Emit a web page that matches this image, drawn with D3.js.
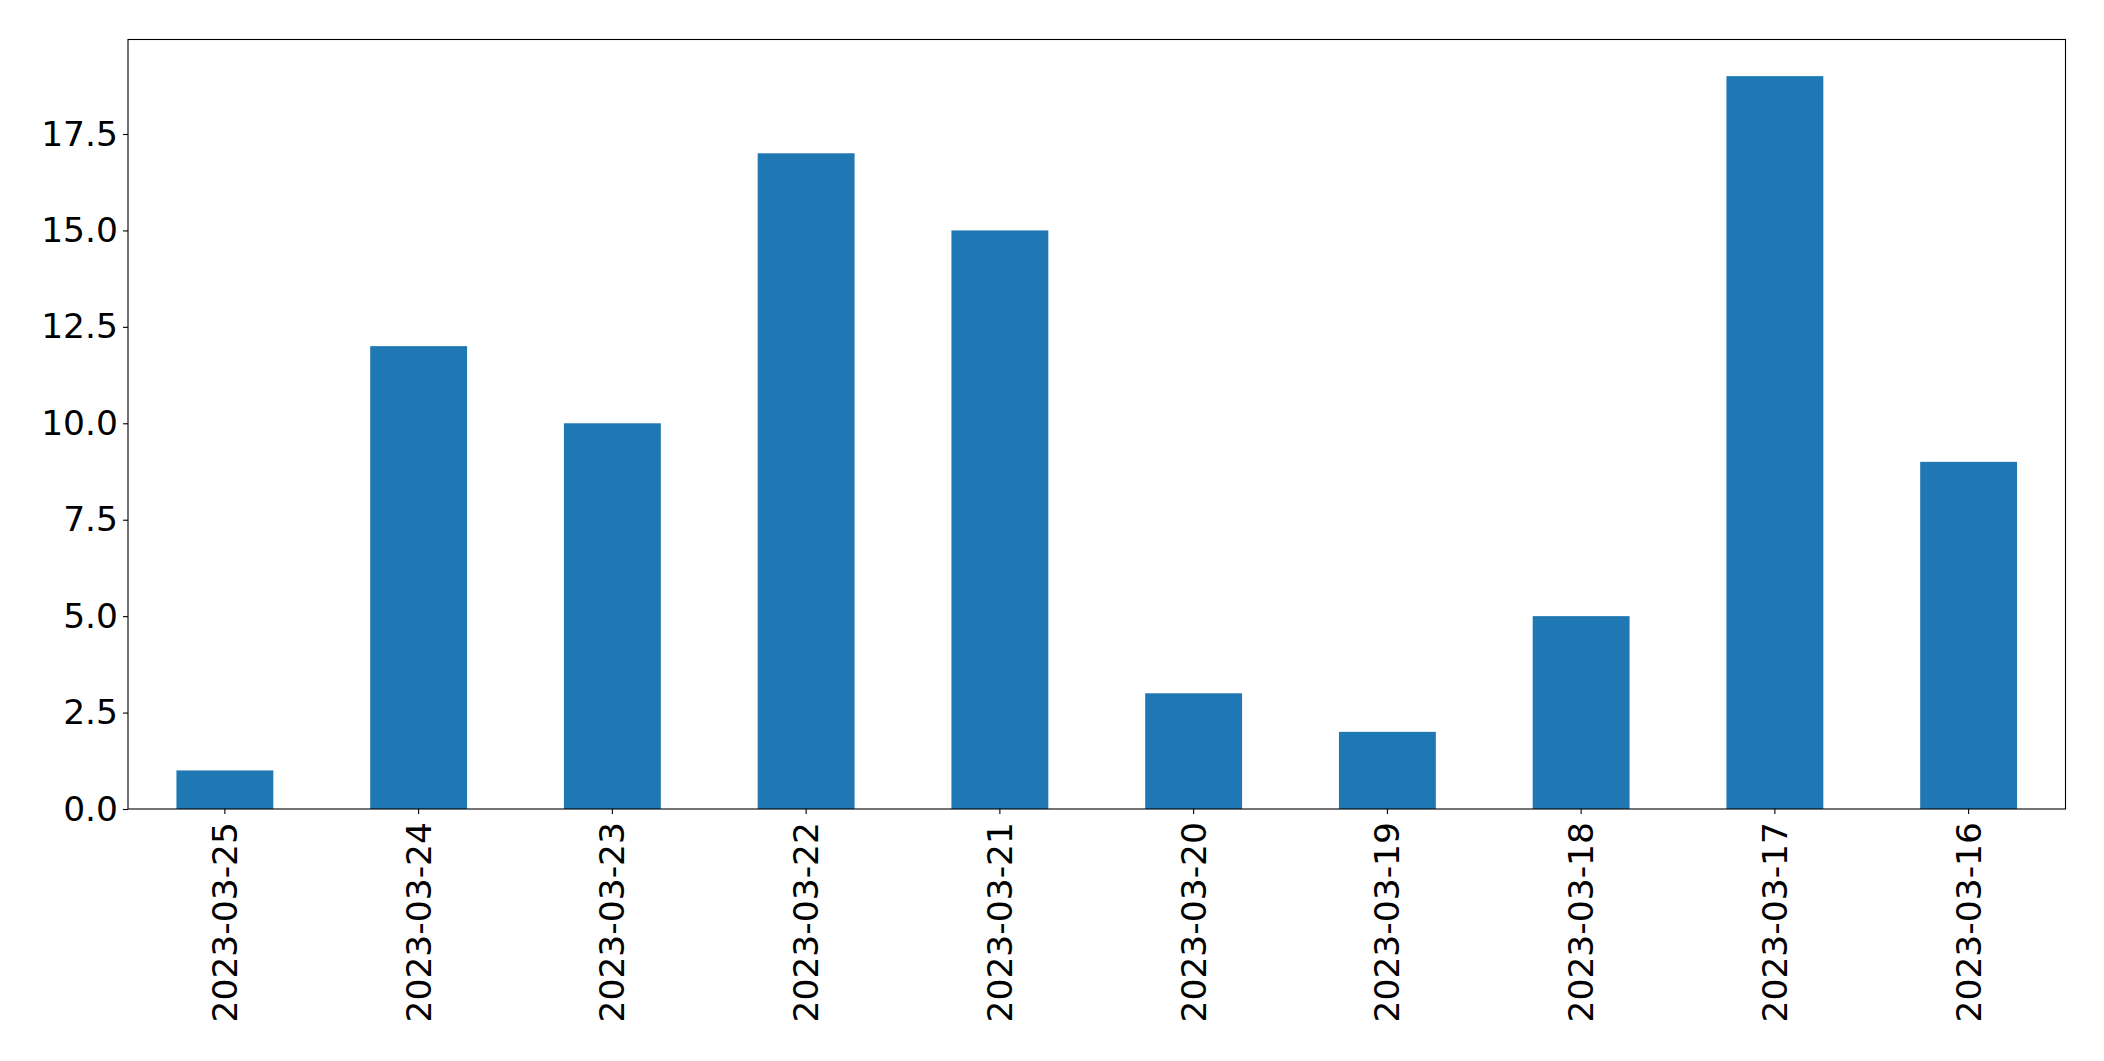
<!DOCTYPE html>
<html>
<head>
<meta charset="utf-8">
<script src="https://cdn.jsdelivr.net/npm/d3@7"></script>
<style>
  body { margin: 0; background: #fff; }
  svg text { font-family: "DejaVu Sans", sans-serif; }
</style>
</head>
<body>
<svg id="chart"></svg>
<script>
// dados
const categorias = ["2023-03-25", "2023-03-24", "2023-03-23", "2023-03-22", "2023-03-21",
                    "2023-03-20", "2023-03-19", "2023-03-18", "2023-03-17", "2023-03-16"]
const valores = [1, 12, 10, 17, 15, 3, 2, 5, 19, 9]
const yTicks = [0, 2.5, 5, 7.5, 10, 12.5, 15, 17.5]

// dimensions and margins
var margin = {top: 39.5, right: 38.5, bottom: 252, left: 128},
    width = 2104 - margin.left - margin.right,
    height = 1061 - margin.top - margin.bottom

const svg = d3.select("#chart")
    .attr("width", 2104)
    .attr("height", 1061)

const chart = svg.append("g")
    .attr("transform", "translate(" + margin.left + "," + margin.top + ")")

const x = d3.scaleBand()
    .range([0, width])
    .domain(categorias)
    .paddingInner(0.5)
    .paddingOuter(0.25)

const y = d3.scaleLinear()
    .range([height, 0])
    .domain([0, d3.max(valores) * 1.05])

// bars
chart.selectAll("rect.bar")
    .data(valores)
    .enter()
    .append("rect")
    .attr("class", "bar")
    .attr("fill", "#1f77b4")
    .attr("x", (d, i) => x(categorias[i]))
    .attr("width", x.bandwidth())
    .attr("y", d => y(d))
    .attr("height", d => height - y(d))

/*y axis*/
const yAxis = chart.append("g")
    .call(d3.axisLeft(y)
        .tickValues(yTicks)
        .tickFormat(d3.format(".1f"))
        .tickSize(5)
        .tickPadding(5)
    )

/*x axis*/
const xAxis = chart.append("g")
    .attr("transform", `translate(0, ${height})`)
    .call(d3.axisBottom(x)
        .tickSize(5)
        .tickPadding(5)
    )

xAxis.selectAll("text")
    .attr("transform", "rotate(-90)")
    .attr("text-anchor", "end")
    .attr("dy", "0.35em")
    .attr("x", -13)
    .attr("y", 0)

chart.selectAll(".tick text")
    .attr("fill", "#000")
    .style("font-size", "34.5px")
chart.selectAll(".tick line")
    .attr("stroke", "#000")
    .attr("stroke-width", 1.1)
chart.selectAll(".domain").remove()

// frame
chart.append("rect")
    .attr("x", 0)
    .attr("y", 0)
    .attr("width", width)
    .attr("height", height)
    .attr("fill", "none")
    .attr("stroke", "#000")
    .attr("stroke-width", 1.1)
</script>
</body>
</html>
